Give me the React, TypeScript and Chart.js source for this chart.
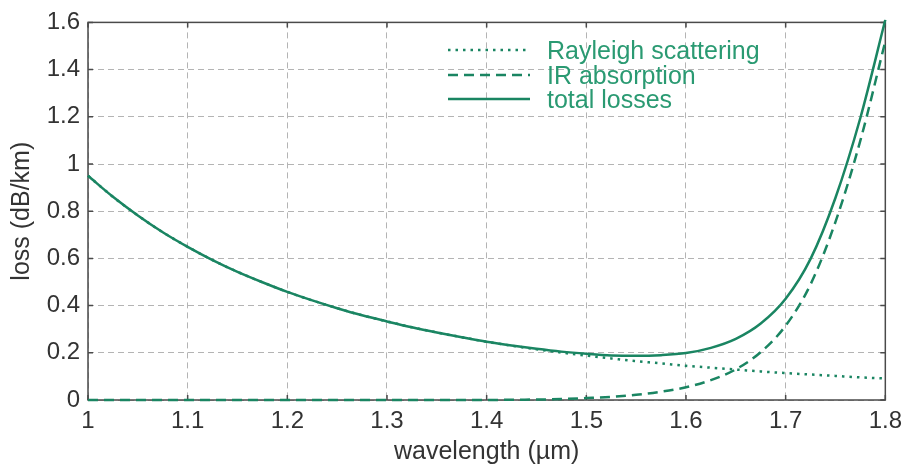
import React, { useEffect, useRef } from "react";
import { Chart, registerables } from "chart.js";

Chart.register(...registerables);

// wavelength samples (µm)
const wavelength = [
  1.0, 1.025, 1.05, 1.075, 1.1, 1.125, 1.15, 1.175, 1.2, 1.225, 1.25, 1.275,
  1.3, 1.325, 1.35, 1.375, 1.4, 1.425, 1.45, 1.475, 1.5, 1.525, 1.55, 1.575,
  1.6, 1.625, 1.65, 1.675, 1.7, 1.725, 1.75, 1.775, 1.8,
];

// loss values (dB/km)
const rayleigh = [
  0.95, 0.861, 0.782, 0.711, 0.649, 0.593, 0.543, 0.499, 0.458, 0.422, 0.389,
  0.359, 0.333, 0.308, 0.286, 0.266, 0.247, 0.23, 0.215, 0.201, 0.188, 0.176,
  0.165, 0.155, 0.145, 0.137, 0.129, 0.121, 0.114, 0.108, 0.102, 0.096, 0.091,
];

const irAbsorption = [
  0, 0, 0, 0, 0, 0, 0, 0, 0, 0, 0, 0, 0, 0, 0, 0, 0, 0.001, 0.002, 0.004,
  0.008, 0.013, 0.022, 0.035, 0.054, 0.084, 0.13, 0.203, 0.315, 0.49, 0.755,
  1.1, 1.52,
];

const totalLosses = [
  0.95, 0.861, 0.782, 0.711, 0.649, 0.593, 0.543, 0.499, 0.458, 0.422, 0.389,
  0.359, 0.333, 0.308, 0.286, 0.266, 0.247, 0.231, 0.217, 0.205, 0.196, 0.189,
  0.187, 0.19, 0.199, 0.221, 0.259, 0.324, 0.429, 0.598, 0.857, 1.196, 1.611,
];

const xTicks = [1, 1.1, 1.2, 1.3, 1.4, 1.5, 1.6, 1.7, 1.8];
const yTicks = [0, 0.2, 0.4, 0.6, 0.8, 1, 1.2, 1.4, 1.6];

const legendLabels = ["Rayleigh scattering", "IR absorption", "total losses"];

const LINE = "#1a8562";
const TEXT_GREEN = "#2a9a72";
const FONT = "'Liberation Sans', Arial, sans-serif";

const fmt = (v: number) => String(Number(v.toFixed(1)));

const framePlugin = {
  id: "frame",
  beforeDatasetsDraw(chart: any) {
    const { ctx, chartArea, scales } = chart;
    const { left, right, top, bottom } = chartArea;
    ctx.save();
    ctx.strokeStyle = "#4a4a4a";
    ctx.lineWidth = 1.5;
    ctx.strokeRect(left, top, right - left, bottom - top);
    ctx.beginPath();
    xTicks.forEach((v) => {
      const px = scales.x.getPixelForValue(v);
      ctx.moveTo(px, bottom);
      ctx.lineTo(px, bottom - 5);
      ctx.moveTo(px, top);
      ctx.lineTo(px, top + 5);
    });
    yTicks.forEach((v) => {
      const py = scales.y.getPixelForValue(v);
      ctx.moveTo(left, py);
      ctx.lineTo(left + 5, py);
      ctx.moveTo(right, py);
      ctx.lineTo(right - 5, py);
    });
    ctx.stroke();
    ctx.restore();
  },
};

const legendPlugin = {
  id: "innerLegend",
  afterDatasetsDraw(chart: any) {
    const { ctx } = chart;
    const styles = [
      { dash: [2.5, 5], width: 2.5 },
      { dash: [10, 6], width: 2.5 },
      { dash: [], width: 2.5 },
    ];
    const x0 = 448;
    const x1 = 530;
    const tx = 547;
    const rows = [50, 75, 99];
    ctx.save();
    legendLabels.forEach((label, i) => {
      const ys = rows[i];
      ctx.beginPath();
      ctx.strokeStyle = LINE;
      ctx.lineWidth = styles[i].width;
      ctx.setLineDash(styles[i].dash);
      ctx.moveTo(x0, ys);
      ctx.lineTo(x1, ys);
      ctx.stroke();
      ctx.setLineDash([]);
      ctx.fillStyle = TEXT_GREEN;
      ctx.font = `25px ${FONT}`;
      ctx.textBaseline = "alphabetic";
      ctx.textAlign = "left";
      ctx.fillText(label, tx, ys + 9);
    });
    ctx.restore();
  },
};

export default function App() {
  const ref = useRef<HTMLCanvasElement | null>(null);

  useEffect(() => {
    document.body.style.margin = "0";
    if (!ref.current) return;
    const mk = (arr: number[]) => wavelength.map((w, i) => ({ x: w, y: arr[i] }));
    const chart = new Chart(ref.current, {
      type: "line",
      data: {
        datasets: [
          {
            label: legendLabels[2],
            data: mk(totalLosses),
            borderColor: LINE,
            borderWidth: 2.5,
            pointRadius: 0,
            cubicInterpolationMode: "monotone",
            fill: false,
            clip: 3,
          },
          {
            label: legendLabels[1],
            data: mk(irAbsorption),
            borderColor: LINE,
            borderWidth: 2.5,
            borderDash: [10, 6],
            pointRadius: 0,
            cubicInterpolationMode: "monotone",
            fill: false,
            clip: 3,
          },
          {
            label: legendLabels[0],
            data: mk(rayleigh),
            borderColor: LINE,
            borderWidth: 2.5,
            borderDash: [2.5, 5],
            pointRadius: 0,
            cubicInterpolationMode: "monotone",
            fill: false,
            clip: 3,
          },
        ],
      },
      options: {
        animation: false,
        responsive: true,
        maintainAspectRatio: false,
        layout: { padding: { top: 15, right: 22, left: 0, bottom: 0 } },
        plugins: {
          legend: { display: false },
          tooltip: { enabled: false },
        },
        scales: {
          x: {
            type: "linear",
            min: 1,
            max: 1.8,
            afterBuildTicks: (s: any) => {
              s.ticks = xTicks.map((v) => ({ value: v }));
            },
            afterFit: (s: any) => {
              s.height = 74;
            },
            ticks: {
              color: "#333",
              font: { family: FONT, size: 24 },
              padding: 7,
              maxRotation: 0,
              autoSkip: false,
              callback: (v: any) => fmt(Number(v)),
            },
            grid: { color: "#b4b4b4", lineWidth: 1, drawTicks: false },
            border: { display: false, dash: [6, 4] },
            title: {
              display: true,
              text: "wavelength (µm)",
              color: "#333",
              font: { family: FONT, size: 25 },
              padding: { top: 0, bottom: 7 },
            },
          },
          y: {
            type: "linear",
            min: 0,
            max: 1.6,
            afterBuildTicks: (s: any) => {
              s.ticks = yTicks.map((v) => ({ value: v }));
            },
            afterFit: (s: any) => {
              s.width = 88;
            },
            ticks: {
              color: "#333",
              font: { family: FONT, size: 24 },
              padding: 8,
              autoSkip: false,
              callback: (v: any) => fmt(Number(v)),
            },
            grid: { color: "#b4b4b4", lineWidth: 1, drawTicks: false },
            border: { display: false, dash: [6, 4] },
            title: {
              display: true,
              text: "loss (dB/km)",
              color: "#333",
              font: { family: FONT, size: 25 },
              padding: { top: 7, bottom: 0 },
            },
          },
        },
      },
      plugins: [framePlugin, legendPlugin],
    });
    return () => chart.destroy();
  }, []);

  return (
    <div style={{ width: 909, height: 474, position: "relative" }}>
      <canvas ref={ref} />
    </div>
  );
}
